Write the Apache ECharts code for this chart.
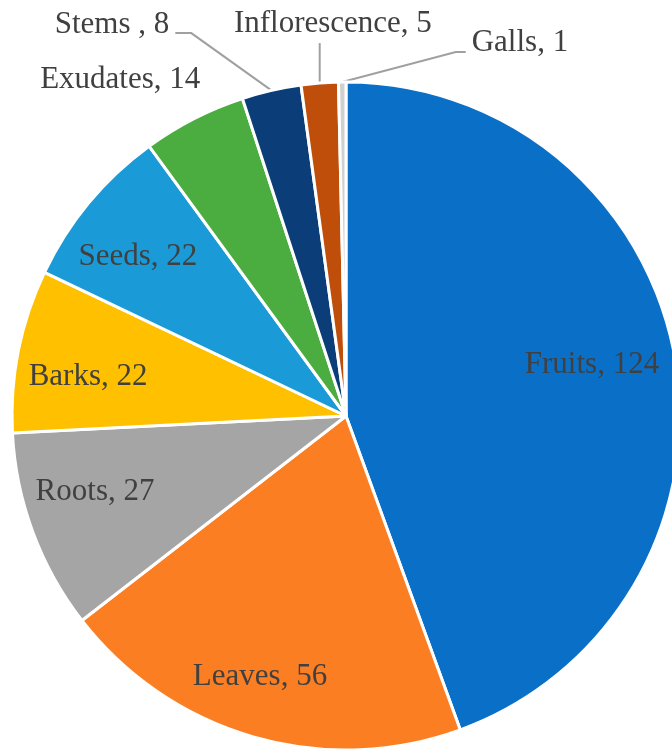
<!DOCTYPE html>
<html>
<head>
<meta charset="utf-8">
<script src="https://cdn.jsdelivr.net/npm/echarts@6/dist/echarts.min.js"></script>
<style>
html,body{margin:0;padding:0;background:#fff;}
#chart{width:672px;height:753px;}
</style>
</head>
<body>
<div id="chart"></div>
<script>
// ---- data ----
const categories = ['Fruits', 'Leaves', 'Roots', 'Barks', 'Seeds', 'Exudates', 'Stems ', 'Inflorescence', 'Galls'];
const counts = [124, 56, 27, 22, 22, 14, 8, 5, 1];

// ---- style ----
const colors = ['#0A6FC7', '#FC7E23', '#A5A5A5', '#FFC000', '#1A9AD6', '#4BAC3F', '#0B3E78', '#C04E0B', '#D0D0D0'];
const insideSet = [true, true, true, true, true, false, false, false, false];
// label placement: [angle shift from slice middle (deg), radius fraction]
const labelPlace = [[-1.7, 0.752], [2.1, 0.823], [3.5, 0.785], [-2.7, 0.781], [-2.3, 0.784],
                    [-6.8, 1.212], [-18.0, 1.364], [2.6, 1.174], [25.65, 1.232]];
const leader = [null, null, null, null, null, 'none', 'left', 'up', 'right'];
const CX = 346, CY = 416, R = 334;
const FONT = 'Liberation Serif';

const total = counts.reduce((a, b) => a + b, 0);
const midAngles = [];
let acc = 0;
counts.forEach(v => { const a = v / total * 360; midAngles.push(acc + a / 2); acc += a; });
function polar(angDeg, r) {
  const t = angDeg * Math.PI / 180;
  return [CX + r * Math.sin(t), CY - r * Math.cos(t)];
}

const chart = echarts.init(document.getElementById('chart'), null, {renderer: 'canvas'});
const data = categories.map((c, i) => ({
  name: c,
  value: counts[i],
  itemStyle: {color: colors[i]},
  label: {position: insideSet[i] ? 'inside' : 'outside'},
  labelLine: {show: !insideSet[i] && leader[i] !== 'none'}
}));

chart.setOption({
  animation: false,
  backgroundColor: '#fff',
  series: [{
    type: 'pie',
    center: [CX, CY],
    radius: R,
    startAngle: 90,
    clockwise: true,
    avoidLabelOverlap: false,
    data: data,
    itemStyle: {borderColor: '#fff', borderWidth: 3},
    label: {
      show: true,
      formatter: '{b}, {c}',
      color: '#404040',
      fontFamily: FONT,
      fontSize: 31
    },
    labelLine: {
      show: true, length: 10, length2: 10, smooth: false,
      lineStyle: {color: '#A0A0A0', width: 2}
    },
    labelLayout: function (params) {
      const i = params.dataIndex;
      const p = polar(midAngles[i] + labelPlace[i][0], labelPlace[i][1] * R);
      const res = {x: p[0], y: p[1], align: 'center', verticalAlign: 'middle'};
      const w = params.labelRect.width;
      const edge = polar(midAngles[i], R);
      if (leader[i] === 'left') {
        const endX = p[0] + w / 2 + 6;
        res.labelLinePoints = [edge, [endX + 16, p[1] + 8], [endX, p[1] + 8]];
      } else if (leader[i] === 'right') {
        const endX = p[0] - w / 2 - 6;
        res.labelLinePoints = [edge, [endX - 10, p[1] + 9], [endX, p[1] + 9]];
      } else if (leader[i] === 'up') {
        res.labelLinePoints = [edge, [edge[0], p[1] + 19], [edge[0], p[1] + 19]];
      }
      return res;
    }
  }]
});
</script>
</body>
</html>
